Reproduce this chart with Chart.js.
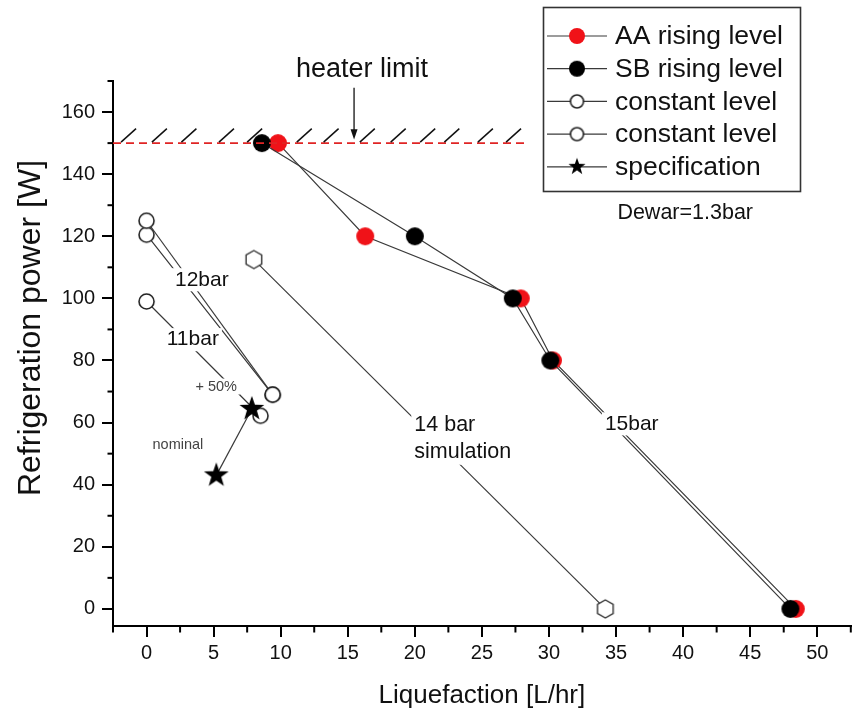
<!DOCTYPE html>
<html>
<head>
<meta charset="utf-8">
<script src="https://cdn.jsdelivr.net/npm/chart.js@4.4.0/dist/chart.umd.min.js"></script>
<style>
  html, body { margin: 0; padding: 0; background: #fff; }
  #wrap { width: 861px; height: 711px; }
</style>
</head>
<body>
<div id="wrap"><canvas id="chart" width="861" height="711"></canvas></div>
<script>
const FONT = '"Liberation Sans", Arial, Helvetica, sans-serif';

// rising level runs at 15 bar
const AA_X = [9.8, 16.3, 27.9, 30.3, 48.4];
const AA_Y = [150, 120, 100, 80, 0];
const SB_X = [8.6, 20.0, 27.3, 30.1, 48.0];
const SB_Y = [150, 120, 100, 80, 0];

// constant level runs (12 bar, then 12 bar + 11 bar with a break)
const CONST1_X = [0, 9.4];
const CONST1_Y = [125, 69];
const CONST2_X = [0, 9.4, null, 0, 8.5];
const CONST2_Y = [120.5, 69, null, 99, 62.2];

// 14 bar simulation
const SIM_X = [8.0, 34.2];
const SIM_Y = [112.5, 0];

// nominal and +50% specification
const SPEC_X = [5.2, 7.85];
const SPEC_Y = [43, 64.4];

const HEATER_LIMIT = 150;
const X_TICKS = [0, 5, 10, 15, 20, 25, 30, 35, 40, 45, 50];
const Y_TICKS = [0, 20, 40, 60, 80, 100, 120, 140, 160];
const X_MINOR = [-2.5, 2.5, 7.5, 12.5, 17.5, 22.5, 27.5, 32.5, 37.5, 42.5, 47.5, 52.5];
const Y_MINOR = [10, 30, 50, 70, 90, 110, 130, 150, 170];

// hatch strokes above the heater limit (left foot of each stroke)
const HATCH_X = [-1.9, 0.4, 2.6, 5.4, 7.5, 11.2, 13.2, 15.9, 18.2, 20.4, 22.2, 24.7, 26.8];

const pts = (xs, ys) => xs.map((x, i) => ({ x: x, y: ys[i] }));

// ---- marker images ----
function marker(size, draw) {
  const c = document.createElement('canvas');
  c.width = c.height = size;
  const g = c.getContext('2d');
  g.translate(size / 2, size / 2);
  draw(g);
  return c;
}
function disc(color, r) {
  return marker(2 * r + 2, g => {
    g.beginPath(); g.arc(0, 0, r, 0, Math.PI * 2);
    g.fillStyle = color; g.fill();
  });
}
function ring(r) {
  return marker(2 * r + 4, g => {
    g.beginPath(); g.arc(0, 0, r, 0, Math.PI * 2);
    g.fillStyle = '#fff'; g.fill();
    g.lineWidth = 1.6; g.strokeStyle = '#222'; g.stroke();
  });
}
function hexagon(r) {
  return marker(2 * r + 4, g => {
    g.beginPath();
    for (let k = 0; k < 6; k++) {
      const a = -Math.PI / 2 + k * Math.PI / 3;
      g.lineTo(r * Math.cos(a), r * Math.sin(a));
    }
    g.closePath();
    g.fillStyle = '#fff'; g.fill();
    g.lineWidth = 1.4; g.strokeStyle = '#333'; g.stroke();
  });
}
function star(r) {
  return marker(2 * r + 2, g => {
    g.beginPath();
    for (let k = 0; k < 10; k++) {
      const a = -Math.PI / 2 + k * Math.PI / 5;
      const rr = k % 2 ? r * 0.4 : r;
      g.lineTo(rr * Math.cos(a), rr * Math.sin(a));
    }
    g.closePath();
    g.fillStyle = '#000'; g.fill();
  });
}

const RED = '#f01218';
const M_RED = disc(RED, 9);
const M_BLACK = disc('#000', 9);
const M_RING = ring(7.5);
const M_HEX = hexagon(9);
const M_STAR = star(13);
const M_RED_S = disc(RED, 8);
const M_BLACK_S = disc('#000', 8);
const M_RING_S = ring(6.5);
const M_STAR_S = star(9);

const LINE = '#3a3a3a';
function series(label, data, style, order) {
  return {
    label: label, data: data, showLine: true, spanGaps: false,
    borderColor: LINE, borderWidth: 1.2, tension: 0,
    pointStyle: style, pointRadius: 9, order: order
  };
}

const datasets = [
  series('AA rising level', pts(AA_X, AA_Y), M_RED, 3),
  series('SB rising level', pts(SB_X, SB_Y), M_BLACK, 2),
  series('constant level', pts(CONST1_X, CONST1_Y), M_RING, 4),
  series('constant level', pts(CONST2_X, CONST2_Y), M_RING, 5),
  series('simulation', pts(SIM_X, SIM_Y), M_HEX, 6),
  series('specification', pts(SPEC_X, SPEC_Y), M_STAR, 1)
];

const LEGEND = [
  { text: 'AA rising level', img: M_RED_S },
  { text: 'SB rising level', img: M_BLACK_S },
  { text: 'constant level', img: M_RING_S },
  { text: 'constant level', img: M_RING_S },
  { text: 'specification', img: M_STAR_S }
];

// ---- annotations: labels, heater limit, legend, minor ticks ----
function boxedText(ctx, text, x, y, size, color, align, boxed) {
  ctx.font = size + 'px ' + FONT;
  ctx.textAlign = align || 'center';
  ctx.textBaseline = 'middle';
  const w = ctx.measureText(text).width;
  const left = ctx.textAlign === 'left' ? x : x - w / 2;
  if (boxed) {
    ctx.fillStyle = '#fff';
    ctx.fillRect(left - 3, y - size * 0.55, w + 6, size * 1.1);
  }
  ctx.fillStyle = color;
  ctx.fillText(text, x, y);
}

const annotations = {
  id: 'annotations',
  afterDatasetsDraw(chart) {
    const ctx = chart.ctx, xs = chart.scales.x, ys = chart.scales.y;
    const px = v => xs.getPixelForValue(v), py = v => ys.getPixelForValue(v);
    ctx.save();

    // heater limit
    const yl = py(HEATER_LIMIT);
    ctx.strokeStyle = '#e02424';
    ctx.lineWidth = 1.6;
    ctx.setLineDash([8, 5]);
    ctx.beginPath(); ctx.moveTo(chart.chartArea.left, yl); ctx.lineTo(px(28.2), yl); ctx.stroke();
    ctx.setLineDash([]);
    ctx.strokeStyle = '#111';
    ctx.lineWidth = 1.5;
    HATCH_X.forEach(h => {
      const x0 = px(h);
      ctx.beginPath(); ctx.moveTo(x0, yl - 1); ctx.lineTo(x0 + 15, yl - 14.5); ctx.stroke();
    });
    const ax = px(15.47);
    ctx.lineWidth = 1.3;
    ctx.beginPath(); ctx.moveTo(ax, py(167.8)); ctx.lineTo(ax, py(153)); ctx.stroke();
    ctx.fillStyle = '#111';
    ctx.beginPath();
    ctx.moveTo(ax, py(151.2)); ctx.lineTo(ax - 3.5, py(154.5)); ctx.lineTo(ax + 3.5, py(154.5));
    ctx.closePath(); ctx.fill();
    boxedText(ctx, 'heater limit', px(16.06), py(173.7), 27, '#111', 'center', false);

    boxedText(ctx, 'Dewar=1.3bar', px(35.1), py(127.6), 21.5, '#111', 'left', false);
    boxedText(ctx, '12bar', px(4.12), py(106), 21, '#111', 'center', true);
    boxedText(ctx, '11bar', px(3.45), py(86.7), 21, '#111', 'center', true);
    boxedText(ctx, '+ 50%', px(5.19), py(71.6), 14.5, '#444', 'center', true);
    boxedText(ctx, 'nominal', px(2.34), py(52.9), 14.5, '#444', 'center', false);
    ctx.fillStyle = '#fff';
    ctx.fillRect(px(19.96) - 3, py(59.3) - 12, 104, 52);
    boxedText(ctx, '14 bar', px(19.96), py(59.3), 21.5, '#111', 'left', false);
    boxedText(ctx, 'simulation', px(19.96), py(50.6), 21.5, '#111', 'left', false);
    boxedText(ctx, '15bar', px(36.17), py(59.6), 21, '#111', 'center', true);
    ctx.restore();
  },
  afterDraw(chart) {
    const ctx = chart.ctx, xs = chart.scales.x, ys = chart.scales.y;
    const a = chart.chartArea;
    ctx.save();
    // minor ticks
    ctx.strokeStyle = '#000';
    ctx.lineWidth = 2;
    X_MINOR.forEach(v => {
      const x = xs.getPixelForValue(v);
      ctx.beginPath(); ctx.moveTo(x, a.bottom); ctx.lineTo(x, a.bottom + 6.5); ctx.stroke();
    });
    Y_MINOR.forEach(v => {
      const y = ys.getPixelForValue(v);
      ctx.beginPath(); ctx.moveTo(a.left, y); ctx.lineTo(a.left - 5.5, y); ctx.stroke();
    });

    // y axis title, sitting a little above the axis middle
    ctx.save();
    ctx.translate(31, 328);
    ctx.rotate(-Math.PI / 2);
    ctx.font = '32px ' + FONT;
    ctx.textAlign = 'center';
    ctx.textBaseline = 'middle';
    ctx.fillStyle = '#111';
    ctx.fillText('Refrigeration power [W]', 0, 0);
    ctx.restore();

    // legend box
    const bx = 543.5, by = 7.5, bw = 257, bh = 184;
    ctx.fillStyle = '#fff';
    ctx.fillRect(bx, by, bw, bh);
    ctx.strokeStyle = '#333';
    ctx.lineWidth = 1.6;
    ctx.strokeRect(bx, by, bw, bh);
    ctx.font = '26.5px ' + FONT;
    ctx.textAlign = 'left';
    ctx.textBaseline = 'middle';
    LEGEND.forEach((item, i) => {
      const y = 36 + i * 32.7;
      ctx.strokeStyle = LINE;
      ctx.lineWidth = 1.2;
      ctx.beginPath(); ctx.moveTo(547, y); ctx.lineTo(607, y); ctx.stroke();
      ctx.drawImage(item.img, 577 - item.img.width / 2, y - item.img.height / 2);
      ctx.fillStyle = '#111';
      ctx.fillText(item.text, 615, y + 1);
    });
    ctx.restore();
  }
};

new Chart(document.getElementById('chart'), {
  type: 'scatter',
  data: { datasets: datasets },
  plugins: [annotations],
  options: {
    responsive: false,
    animation: false,
    events: [],
    layout: { padding: { top: 81, right: 5, left: 0, bottom: 0 } },
    plugins: { legend: { display: false }, tooltip: { enabled: false } },
    scales: {
      x: {
        type: 'linear', min: -2.5, max: 52.5,
        afterFit: s => { s.height = 85; },
        afterBuildTicks: s => { s.ticks = X_TICKS.map(v => ({ value: v })); },
        border: { display: true, color: '#000', width: 2 },
        grid: { display: true, drawOnChartArea: false, drawTicks: true, tickLength: 11, color: '#000', lineWidth: 2 },
        ticks: { color: '#111', padding: 4, font: { size: 20, family: FONT }, maxRotation: 0 },
        title: { display: true, text: 'Liquefaction [L/hr]', color: '#111',
                 font: { size: 26, family: FONT }, padding: { top: 0, bottom: 0 } }
      },
      y: {
        type: 'linear', min: -5.5, max: 170,
        afterFit: s => { s.width = 113; },
        afterBuildTicks: s => { s.ticks = Y_TICKS.map(v => ({ value: v })); },
        border: { display: true, color: '#000', width: 2 },
        grid: { display: true, drawOnChartArea: false, drawTicks: true, tickLength: 11, color: '#000', lineWidth: 2 },
        ticks: { color: '#111', padding: 7, font: { size: 20, family: FONT } },
        title: { display: false }
      }
    }
  }
});
</script>
</body>
</html>
